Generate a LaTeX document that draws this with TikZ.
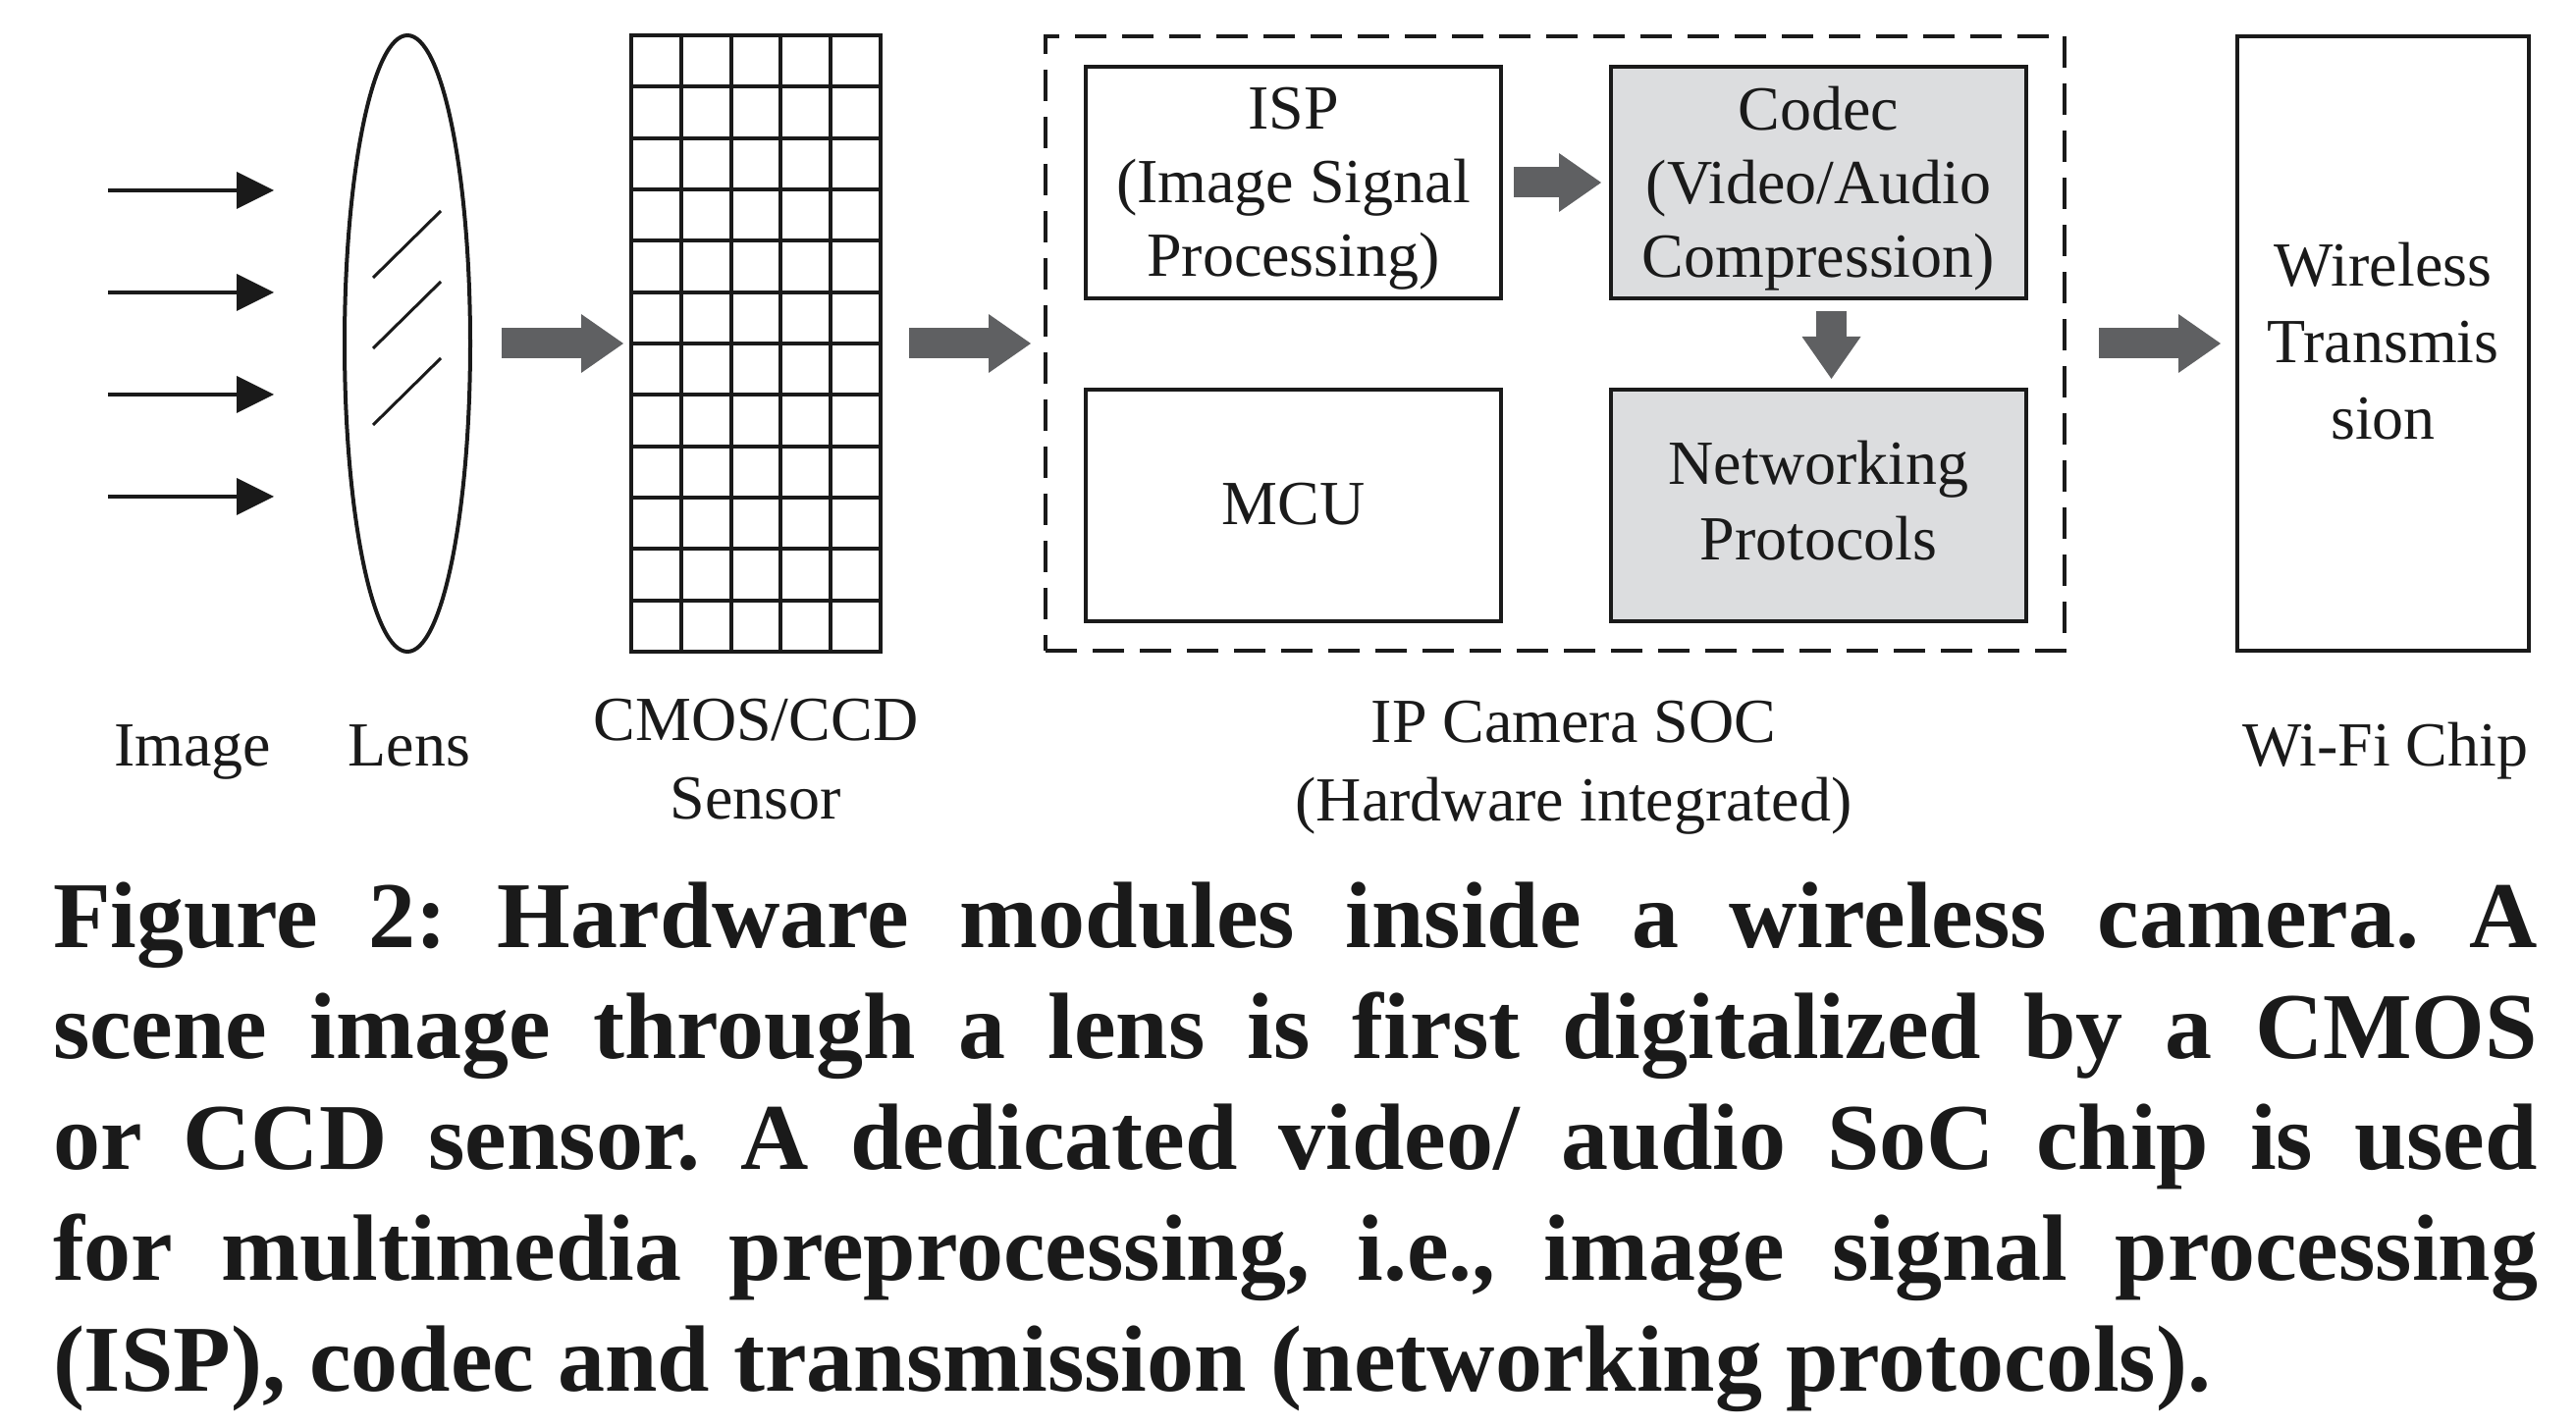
\documentclass[tikz,border=0pt]{standalone}
\usepackage{fontspec}
\setmainfont{Liberation Serif}
\usetikzlibrary{arrows.meta,shapes.geometric}
\definecolor{arrgray}{HTML}{5F6062}
\definecolor{boxgray}{HTML}{DCDDDF}
\definecolor{inkcol}{HTML}{1A1A1A}
\newcommand{\mlines}[1]{\begin{tabular}[t]{@{}c@{}}#1\end{tabular}}
\frenchspacing
\begin{document}
\begin{tikzpicture}[x=0.25pt,y=-0.25pt,
  every node/.style={inner sep=0pt,outer sep=0pt,text=inkcol},
  modbox/.style={draw=inkcol,line width=1.1pt,minimum width=105.75pt,minimum height=59pt},
  txt/.style={anchor=base,font=\fontsize{16}{18.75}\selectfont},
  lbl/.style={anchor=base,font=\fontsize{16}{20}\selectfont},
  captxt/.style={anchor=base west,font=\fontsize{24}{28}\selectfont\bfseries},
  blockarr/.style={draw=arrgray,line width=7.75pt,-{Triangle[width=15pt,length=10.75pt,line width=0pt]}},
  ray/.style={draw=inkcol,line width=0.85pt,-{Triangle[width=9.5pt,length=9.5pt,line width=0pt]}}
]
\useasboundingbox (0,0) rectangle (2624,1454);

% incoming image rays
\foreach \i/\yy in {1/194,2/298,3/402,4/506}{
  \coordinate (r\i s) at (110,\yy);
  \coordinate (r\i e) at (279,\yy);
  \draw[ray] (r\i s) -- (r\i e);
}

% lens
\node[draw=inkcol,line width=1pt,ellipse,minimum width=32pt,minimum height=157pt] (lens) at (415,350) {};
\draw[inkcol,line width=0.75pt] (380,283) -- (449,215);
\draw[inkcol,line width=0.75pt] (380,355) -- (449,287);
\draw[inkcol,line width=0.75pt] (380,433) -- (449,365);

% sensor grid
\node[draw=inkcol,line width=1pt,minimum width=63.5pt,minimum height=157pt] (sensor) at (770,350) {};
\foreach \k in {1,...,4}{
  \draw[inkcol,line width=1pt] ({643+\k*50.8},36) -- ({643+\k*50.8},664);
}
\foreach \k in {1,...,11}{
  \draw[inkcol,line width=1pt] (643,{36+\k*52.333}) -- (897,{36+\k*52.333});
}

% SoC dashed box
\node[draw=inkcol,line width=0.8pt,dash pattern=on 8pt off 4pt,minimum width=259.5pt,minimum height=156.5pt] (soc) at (1584,350) {};

% modules
\node[modbox] (isp) at (1317.5,186) {};
\node[modbox,fill=boxgray] (codec) at (1852.5,186) {};
\node[modbox] (mcu) at (1317.5,515) {};
\node[modbox,fill=boxgray] (net) at (1852.5,515) {};

\node[txt] (isptxt) at (1317.5,132) {\mlines{ISP\\(Image Signal\\Processing)}};
\node[txt] (codectxt) at (1852.5,133) {\mlines{Codec\\(Video/Audio\\Compression)}};
\node[txt] (mcutxt) at (1317.5,535) {MCU};
\node[txt,font=\fontsize{16}{19.25}\selectfont] (nettxt) at (1852.5,494) {\mlines{Networking\\Protocols}};

% wifi chip
\node[draw=inkcol,line width=1.1pt,minimum width=74.25pt,minimum height=156.5pt] (wifi) at (2427.5,350) {};
\node[txt,font=\fontsize{16}{19.5}\selectfont] (wifitxt) at (2427.5,292) {\mlines{Wireless\\Transmis\\sion}};

% block arrows
\draw[blockarr] ([xshift=8pt]lens.east) -- ([xshift=-2pt]sensor.west);
\draw[blockarr] ([xshift=7.25pt]sensor.east) -- ([xshift=-3.75pt]soc.west);
\draw[blockarr] ([xshift=3.25pt]isp.east) -- ([xshift=-2.5pt]codec.west);
\draw[blockarr] ([xshift=3.25pt,yshift=-3.25pt]codec.south) -- ([xshift=3.25pt,yshift=2.75pt]net.north);
\draw[blockarr] ([xshift=8.75pt]soc.east) -- ([xshift=-4.25pt]wifi.west);

% labels
\node[lbl] (limage) at (196,780) {Image};
\node[lbl] (llens) at (417,780) {Lens};
\node[lbl] (lsensor) at (770,755) {\mlines{CMOS/CCD\\Sensor}};
\node[lbl] (lsoc) at (1603,757) {\mlines{IP Camera SOC\\(Hardware integrated)}};
\node[lbl] (lwifi) at (2430,780) {Wi-Fi Chip};

% caption
\node[captxt] (cap1) at (54,965) {\makebox[632.75pt][s]{Figure 2: Hardware modules inside a wireless camera. A}};
\node[captxt] (cap2) at (54,1078) {\makebox[632.75pt][s]{scene image through a lens is first digitalized by a CMOS}};
\node[captxt] (cap3) at (54,1191) {\makebox[632.75pt][s]{or CCD sensor. A dedicated video/ audio SoC chip is used}};
\node[captxt] (cap4) at (54,1304) {\makebox[632.75pt][s]{for multimedia preprocessing, i.e., image signal processing}};
\node[captxt] (cap5) at (54,1417) {(ISP), codec and transmission (networking protocols).};
\end{tikzpicture}
\end{document}
